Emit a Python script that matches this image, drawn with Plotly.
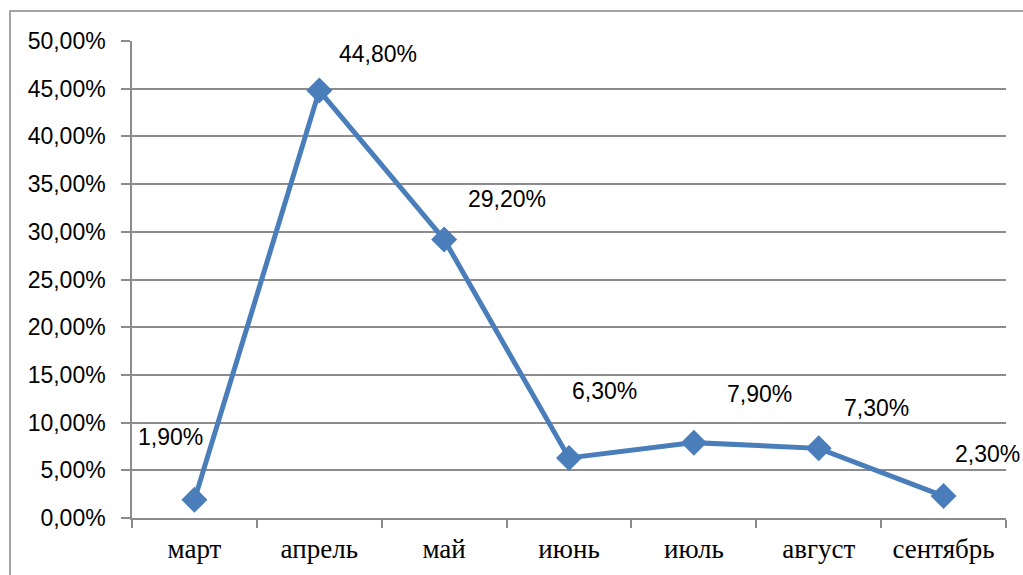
import plotly.graph_objects as go

months = ["март", "апрель", "май", "июнь", "июль", "август", "сентябрь"]
shares = [1.9, 44.8, 29.2, 6.3, 7.9, 7.3, 2.3]
y_ticks = [0, 5, 10, 15, 20, 25, 30, 35, 40, 45, 50]
y_tick_text = ["{:.2f}%".format(v).replace(".", ",") for v in y_ticks]
value_labels = ["{:.2f}%".format(v).replace(".", ",") for v in shares]

# pixel offsets of each value label from its point
label_dx = [-24, 59, 63, 35, 66, 58, 44]
label_dy = [63, 37, 40, 67, 49, 40, 42]

line_color = "#4A7EBB"
grid_color = "#8C8C8C"
sans = "Liberation Sans"

fig = go.Figure()
fig.add_trace(go.Scatter(
    x=months, y=shares, mode="lines+markers",
    line=dict(color=line_color, width=5),
    marker=dict(symbol="diamond", size=20, color=line_color),
    hoverinfo="skip", showlegend=False, cliponaxis=False,
))

for m, v, t, dx, dy in zip(months, shares, value_labels, label_dx, label_dy):
    fig.add_annotation(x=m, y=v, text=t, showarrow=False,
                       xshift=dx, yshift=dy,
                       font=dict(family=sans, size=23, color="#000000"))

W, H = 1023, 575
L, R, T, B = 132, 17, 41, 57
pw, ph = W - L - R, H - T - B

# outer chart border
fig.add_shape(type="rect", xref="paper", yref="paper",
              x0=(10 - L) / pw, x1=(1040 - L) / pw,
              y0=(H - B - 590) / ph, y1=(H - B - 11) / ph,
              line=dict(color="#888888", width=1.5), fillcolor="rgba(0,0,0,0)",
              layer="below")

fig.update_layout(
    width=W, height=H,
    margin=dict(l=L, r=R, t=T, b=B),
    paper_bgcolor="white", plot_bgcolor="white",
    xaxis=dict(
        type="category", tickson="boundaries",
        showline=True, linecolor=grid_color, linewidth=1.5,
        ticks="outside", ticklen=8, tickcolor=grid_color, tickwidth=1.5,
        showgrid=False, ticklabelstandoff=6,
        tickfont=dict(family="Liberation Serif", size=27, color="#000000"),
        range=[-0.5, 6.5],
    ),
    yaxis=dict(
        range=[0, 50], tickvals=y_ticks, ticktext=y_tick_text,
        showline=True, linecolor=grid_color, linewidth=1.5,
        ticks="outside", ticklen=9, tickcolor=grid_color, tickwidth=1.5,
        showgrid=True, gridcolor=grid_color, gridwidth=1.5,
        zeroline=False, ticklabelstandoff=11,
        tickfont=dict(family=sans, size=23, color="#000000"),
    ),
)

fig.write_html("out.html")
